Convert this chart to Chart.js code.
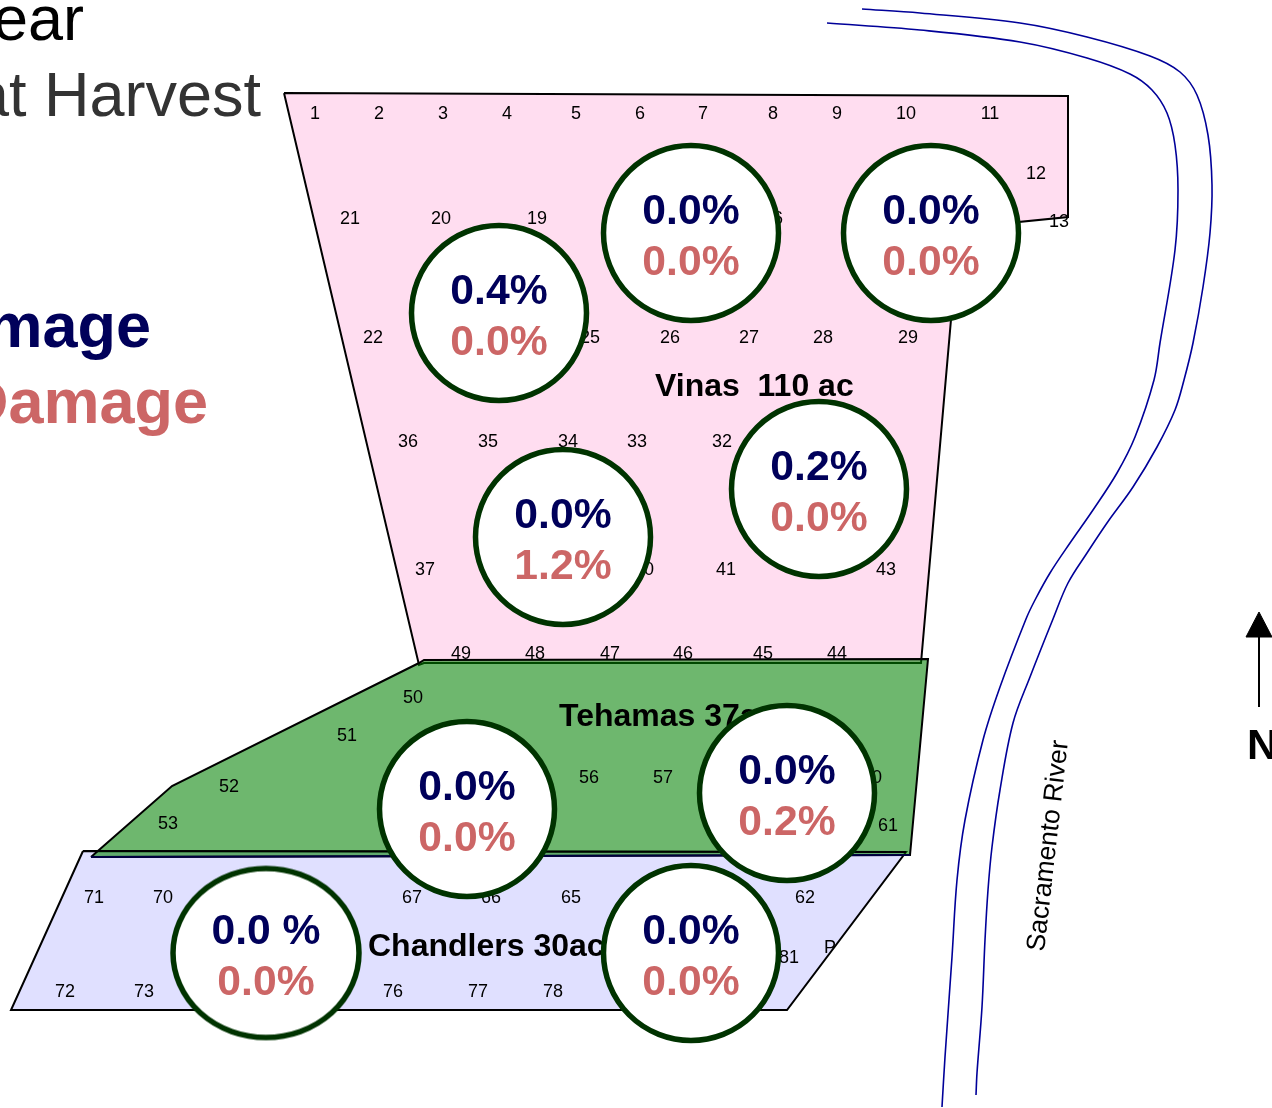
<!DOCTYPE html>
<html lang="en">
  <head>
    <meta charset="UTF-8" />
    <title>Damage at Harvest</title>
    <script src="https://cdn.jsdelivr.net/npm/chart.js@4"></script>
    <style>
      html, body { margin: 0; padding: 0; background: #fff; overflow: hidden; }
      canvas { display: block; }
    </style>
  </head>
  <body>
    <canvas id="myChart" width="1272" height="1108"></canvas>

    <script>
      // block outlines
      const vinasBlock = [[284, 93], [1068, 96], [1068, 217], [959, 228], [921, 663], [424, 663], [419, 665], [284, 93]];
      const chandlersBlock = [[83, 851], [906, 852], [787, 1010], [11, 1010], [83, 851]];
      const tehamasBlock = [[91, 857], [172, 786], [419, 663], [424, 660], [928, 659], [910, 855], [91, 857]];
      const chandlersTopEdge = [[83, 851], [906, 852]];
      const tehamasBottomEdge = [[91, 857], [910, 855]];

      // river banks
      const riverOuter = [[862, 9], [920, 13], [1020, 23], [1087, 37], [1150, 56], [1180, 72], [1197, 95], [1208, 135], [1212, 185], [1210, 233], [1203, 287], [1193, 343], [1184, 380], [1175, 410], [1157, 447], [1133, 487], [1107, 523], [1087, 553], [1068, 583], [1053, 619], [1030, 677], [1013, 723], [1000, 790], [992, 847], [988, 890], [985, 940], [982, 1007], [977, 1073], [976, 1095]];
      const riverInner = [[827, 23], [920, 30], [1020, 42], [1087, 58], [1130, 74], [1152, 90], [1167, 113], [1175, 145], [1178, 190], [1175, 250], [1160, 343], [1154, 380], [1135, 437], [1117, 473], [1093, 510], [1070, 543], [1050, 573], [1035, 600], [1026, 619], [1000, 687], [983, 740], [965, 820], [957, 880], [952, 957], [945, 1057], [942, 1107]];

      // north arrow
      const arrowShaft = [[1259, 636], [1259, 707]];
      const arrowHead = [[1246, 637], [1259, 612], [1272, 637], [1246, 637]];

      // tree row numbers
      const rowLabels = ['1', '2', '3', '4', '5', '6', '7', '8', '9', '10', '11', '12', '13', '16', '19', '20', '21', '22', '25', '26', '27', '28', '29', '32', '33', '34', '35', '36', '37', '40', '41', '43', '44', '45', '46', '47', '48', '49', '50', '51', '52', '53', '56', '57', '60', '61', '62', '65', '66', '67', '70', '71', '72', '73', '76', '77', '78', '81', 'P'];
      const rowX = [315, 379, 443, 507, 576, 640, 703, 773, 837, 906, 990, 1036, 1059, 773, 537, 441, 350, 373, 590, 670, 749, 823, 908, 722, 637, 568, 488, 408, 425, 644, 726, 886, 837, 763, 683, 610, 535, 461, 413, 347, 229, 168, 589, 663, 872, 888, 805, 571, 491, 412, 163, 94, 65, 144, 393, 478, 553, 789, 830];
      const rowY = [113, 113, 113, 113, 113, 113, 113, 113, 113, 113, 113, 173, 221, 218, 218, 218, 218, 337, 337, 337, 337, 337, 337, 441, 441, 441, 441, 441, 569, 569, 569, 569, 653, 653, 653, 653, 653, 653, 697, 735, 786, 823, 777, 777, 777, 825, 897, 897, 897, 897, 897, 897, 991, 991, 991, 991, 991, 957, 947];

      // block names
      const blockNames = ['Vinas  110 ac', 'Tehamas 37ac', 'Chandlers 30ac'];
      const blockNameX = [655, 559, 368];
      const blockNameY = [396, 726, 956];

      // sample circles
      const circleX = [691, 931, 499, 819, 563, 467, 787, 691, 266];
      const circleY = [233, 233, 313, 489, 537, 809, 793, 953, 953];
      const navyValues = ['0.0%', '0.0%', '0.4%', '0.2%', '0.0%', '0.0%', '0.0%', '0.0%', '0.0 %'];
      const redValues = ['0.0%', '0.0%', '0.0%', '0.0%', '1.2%', '0.0%', '0.2%', '0.0%', '0.0%'];

      const NAVY = '#00005a';
      const RED = '#cc6666';
      const FONT = '"Liberation Sans", Arial, sans-serif';

      const toPoints = list => list.map(p => ({ x: p[0], y: p[1] }));

      function polygon(label, points, fill, order, extra) {
        return Object.assign({
          label,
          data: toPoints(points),
          showLine: true,
          fill: 'shape',
          backgroundColor: fill,
          borderColor: '#000',
          borderWidth: 2,
          borderJoinStyle: 'miter',
          pointRadius: 0,
          order
        }, extra);
      }

      function edge(label, points, color, order, width) {
        return polygon(label, points, 'transparent', order, { fill: false, borderColor: color, borderWidth: width });
      }

      function river(label, points) {
        return {
          label,
          data: toPoints(points),
          showLine: true,
          fill: false,
          borderColor: '#000099',
          borderWidth: 1.6,
          tension: 0.35,
          pointRadius: 0,
          order: 10
        };
      }

      // the Chandlers west circle is stretched, so it needs its own point image
      function ellipseImage(w, h) {
        const c = document.createElement('canvas');
        c.width = w + 8;
        c.height = h + 8;
        const g = c.getContext('2d');
        g.beginPath();
        g.ellipse(c.width / 2, c.height / 2, w / 2, h / 2, 0, 0, Math.PI * 2);
        g.fillStyle = '#fff';
        g.fill();
        g.lineWidth = 5.5;
        g.strokeStyle = '#003300';
        g.stroke();
        return c;
      }

      function put(ctx, text, x, y, font, color, align) {
        ctx.font = font;
        ctx.fillStyle = color;
        ctx.textAlign = align || 'left';
        ctx.textBaseline = 'alphabetic';
        ctx.fillText(text, x, y);
      }

      const mapText = {
        id: 'mapText',
        // row numbers and block names go above the blocks but under the circles
        afterDatasetDraw(chart, args) {
          if (chart.data.datasets[args.index].label !== 'Tehamas') return;
          const ctx = chart.ctx;
          const sx = chart.scales.x;
          const sy = chart.scales.y;
          ctx.save();
          rowLabels.forEach((t, i) => {
            ctx.font = '18px ' + FONT;
            ctx.fillStyle = '#000';
            ctx.textAlign = 'center';
            ctx.textBaseline = 'middle';
            ctx.fillText(t, sx.getPixelForValue(rowX[i]), sy.getPixelForValue(rowY[i]) + 1);
          });
          blockNames.forEach((t, i) => {
            put(ctx, t, sx.getPixelForValue(blockNameX[i]), sy.getPixelForValue(blockNameY[i]), 'bold 32px ' + FONT, '#000');
          });
          ctx.restore();
        },
        afterDatasetsDraw(chart) {
          const ctx = chart.ctx;
          const sx = chart.scales.x;
          const sy = chart.scales.y;
          ctx.save();
          circleX.forEach((cx, i) => {
            const px = sx.getPixelForValue(cx);
            const py = sy.getPixelForValue(circleY[i]);
            put(ctx, navyValues[i], px, py - 9, 'bold 42.7px ' + FONT, NAVY, 'center');
            put(ctx, redValues[i], px, py + 42, 'bold 42.7px ' + FONT, RED, 'center');
          });
          // title and key run off the left edge of the picture
          put(ctx, 'Year', 84, 40, '63px ' + FONT, '#000', 'right');
          put(ctx, 'at Harvest', 261, 116, '63px ' + FONT, '#333', 'right');
          put(ctx, 'Damage', 151, 347, 'bold 63px ' + FONT, NAVY, 'right');
          put(ctx, 'Damage', 208, 423, 'bold 63px ' + FONT, RED, 'right');
          put(ctx, 'N', 1247, 759, 'bold 42.7px ' + FONT, '#000');
          ctx.translate(1044, 952);
          ctx.rotate(-83.5 * Math.PI / 180);
          put(ctx, 'Sacramento River', 0, 0, '26.5px ' + FONT, '#000');
          ctx.restore();
        }
      };

      window.addEventListener('load', setup);

      function setup() {
        const ctx = document.getElementById('myChart').getContext('2d');
        const roundCount = circleX.length - 1;
        const circlePoints = circleX.map((x, i) => ({ x, y: circleY[i] }));
        new Chart(ctx, {
          type: 'scatter',
          data: {
            datasets: [
              polygon('Vinas', vinasBlock, '#ffddf0', 30),
              polygon('Chandlers', chandlersBlock, '#e0e0ff', 29),
              polygon('Tehamas', tehamasBlock, 'rgba(0, 128, 0, 0.57)', 28),
              edge('Chandlers top edge', chandlersTopEdge, '#000', 27, 2),
              edge('Tehamas bottom edge', tehamasBottomEdge, '#000040', 27, 2),
              river('River outer', riverOuter),
              river('River inner', riverInner),
              edge('Arrow shaft', arrowShaft, '#000', 10, 2),
              polygon('Arrow head', arrowHead, '#000', 10, { borderWidth: 1 }),
              {
                label: 'Samples',
                data: circlePoints,
                pointBackgroundColor: '#fff',
                pointBorderColor: '#003300',
                pointBorderWidth: 5.5,
                pointRadius: circlePoints.map((p, i) => (i < roundCount ? 87.5 : 90)),
                pointStyle: circlePoints.map((p, i) => (i < roundCount ? 'circle' : ellipseImage(186, 169))),
                order: 1
              }
            ]
          },
          options: {
            responsive: false,
            animation: false,
            layout: { padding: 0, autoPadding: false },
            events: [],
            plugins: { legend: { display: false }, tooltip: { enabled: false } },
            scales: {
              x: { type: 'linear', min: 0, max: 1272, display: false },
              y: { type: 'linear', min: 0, max: 1108, reverse: true, display: false }
            }
          },
          plugins: [mapText]
        });
      }
    </script>
  </body>
</html>
